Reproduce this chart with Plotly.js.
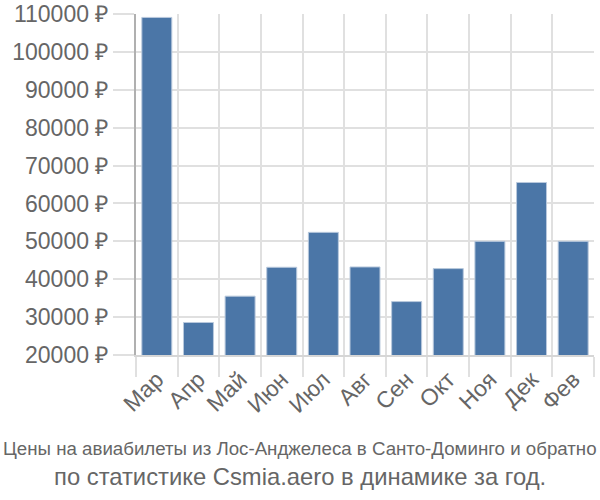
<!DOCTYPE html>
<html>
<head>
<meta charset="utf-8">
<script src="https://cdn.plot.ly/plotly-3.0.1.min.js"></script>
<style>html,body{margin:0;padding:0;background:#fff;}#chart{width:600px;height:500px;}</style>
</head>
<body>
<div id="chart"></div>
<script>
const months = ["Мар","Апр","Май","Июн","Июл","Авг","Сен","Окт","Ноя","Дек","Фев"];
const prices = [109100, 28580, 35530, 43160, 52370, 43240, 34100, 42800, 50000, 65530, 50000];
const yTickValues = [20000,30000,40000,50000,60000,70000,80000,90000,100000,110000];
const yTickLabels = yTickValues.map(v => v + " ₽");
const titleLine1 = "Цены на авиабилеты из Лос-Анджелеса в Санто-Доминго и обратно";
const titleLine2 = "по статистике Csmia.aero в динамике за год.";

const trace = {
  type: "bar",
  x: months,
  y: prices,
  width: 0.72,
  marker: {color: "#4b76a7", line: {color: "#b9c9dd", width: 1}},
  hoverinfo: "none"
};

const layout = {
  width: 600, height: 500,
  margin: {l: 136, r: 6, t: 14, b: 145},
  paper_bgcolor: "#fff", plot_bgcolor: "#fff",
  showlegend: false,
  font: {family: "Liberation Sans, Arial, sans-serif", color: "#666"},
  xaxis: {
    type: "category",
    tickson: "boundaries",
    ticks: "outside", ticklen: 20, tickcolor: "#e0e0e0", tickwidth: 2,
    showgrid: true, gridcolor: "#e0e0e0", gridwidth: 2,
    showline: true, linecolor: "#d6d6d6", linewidth: 2,
    tickangle: -45,
    tickfont: {size: 23, color: "#666"},
    range: [-0.5, 10.5]
  },
  yaxis: {
    range: [20000, 110000],
    tickvals: yTickValues, ticktext: yTickLabels,
    ticks: "outside", ticklen: 21, tickcolor: "#e0e0e0", tickwidth: 2,
    showgrid: true, gridcolor: "#e0e0e0", gridwidth: 2,
    showline: true, linecolor: "#b0b0b0", linewidth: 2,
    zeroline: false,
    tickfont: {size: 23, color: "#666"}
  },
  annotations: [
    {text: titleLine1, x: 0.358, xanchor: "center", y: -0.273, yanchor: "middle",
     xref: "paper", yref: "paper", showarrow: false,
     font: {family: "Liberation Sans Narrow, Arial Narrow, Liberation Sans, sans-serif", size: 18.7, color: "#666"}},
    {text: titleLine2, x: 0.358, xanchor: "center", y: -0.355, yanchor: "middle",
     xref: "paper", yref: "paper", showarrow: false,
     font: {family: "Liberation Sans, Arial, sans-serif", size: 23.8, color: "#666"}}
  ]
};

Plotly.newPlot("chart", [trace], layout, {displayModeBar: false, staticPlot: true});
</script>
</body>
</html>
